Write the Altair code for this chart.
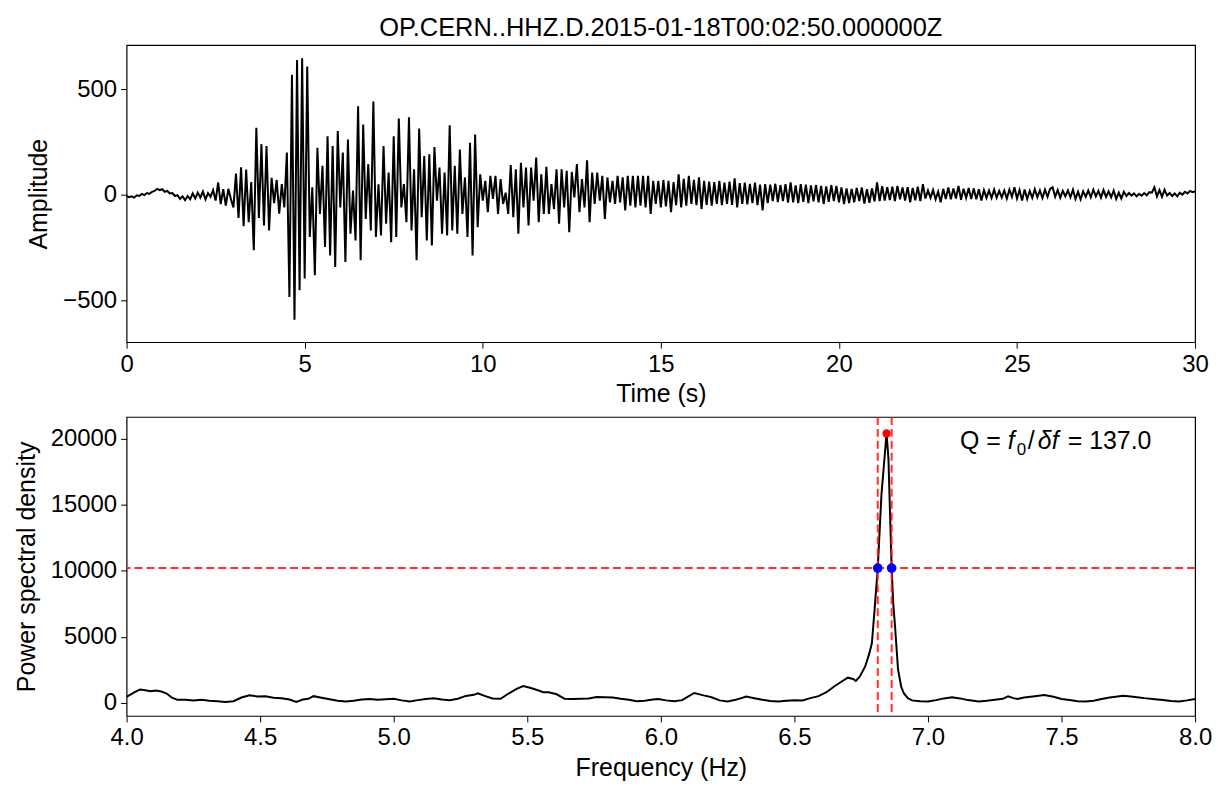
import altair as alt
import pandas as pd

TITLE = "OP.CERN..HHZ.D.2015-01-18T00:02:50.000000Z"
SAMPLES_PER_SECOND = 14

# Seismogram amplitude, one row per second (14 samples each)
amp_rows = [
    [-5, -12, -8, -14, -3, -6, 4, -2, 8, 4, 14, 18, 28, 22],
    [26, 14, 18, 6, 8, -6, -2, -20, -8, -26, -6, -22, 6, -18],
    [10, -14, 16, -22, 8, -10, 22, -28, 58, -45, 26, -52, 28, -20],
    [-60, 100, -110, 130, -150, 120, -130, 60, -264, 318, -110, 240, -146, 231],
    [-170, 80, -40, 70, -90, 50, -60, 200, -485, 570, -594, 640, -453, 648],
    [-398, 608, -201, 35, -382, 223, -91, 137, -248, 278, -288, 231, -343, 302],
    [-60, 200, -319, 262, -185, 20, -217, 420, -311, 333, -115, 145, -170, 443],
    [-201, 50, -193, 231, -138, 105, -225, 278, -201, 362, -60, 50, -130, 368],
    [-170, 121, -311, 314, -107, 184, -217, 192, -241, 226, -28, 129, -185, 105],
    [-193, 330, -170, 137, -185, 215, -91, 82, -201, 247, -288, 286, -154, 97],
    [-28, 66, -83, 90, -20, 90, -91, 74, -44, 10, -91, 141, -107, 121],
    [-185, 152, -60, 129, -146, 129, -28, 176, -130, 97, -91, 132, -91, 50],
    [-68, 121, -138, 121, -60, 113, -178, 108, -13, 145, -83, 74, -60, 163],
    [-130, 105, -44, 105, -28, 90, -115, 82, -36, 66, -44, 90, -36, 82],
    [-75, 90, -52, 90, -60, 90, -52, 90, -60, 90, -91, 66, -44, 66],
    [-60, 70, -55, 66, -83, 60, -50, 97, -60, 75, -52, 90, -44, 70],
    [-50, 82, -68, 66, -48, 62, -52, 60, -44, 66, -50, 58, -44, 62],
    [-48, 78, -60, 55, -44, 58, -46, 52, -40, 58, -50, 48, -75, 50],
    [-40, 48, -30, 52, -35, 46, -30, 50, -38, 58, -36, 44, -40, 50],
    [-34, 48, -40, 44, -32, 46, -36, 42, -44, 40, -34, 46, -30, 42],
    [-36, 35, -44, 30, -40, 28, -36, 32, -30, 34, -42, 26, -38, 30],
    [-32, 58, -30, 40, -28, 36, -25, 38, -30, 42, -22, 35, -28, 36],
    [-36, 32, -26, 38, -30, 50, -18, 20, -15, 22, -22, 15, -36, 28],
    [-20, 35, -22, 30, -18, 42, -24, 28, -15, 32, -20, 30, -22, 26],
    [-28, 22, -15, 20, -16, 24, -14, 18, -13, 20, -18, 24, -10, 35],
    [-18, 22, -28, 25, -20, 18, -15, 26, -12, 20, -16, 24, -10, 28],
    [35, -10, 22, -14, 18, -8, 20, -12, 24, -20, 14, -22, 16, -10],
    [20, -12, 24, -8, 18, -14, 22, -10, 16, -12, 20, -20, 10, -18],
    [14, -6, 8, -4, 6, -8, 4, -5, 8, -3, 12, 10, 35, -8],
    [22, -10, 24, -4, 8, -6, 6, -8, 10, 0, 14, 6, 18, 12],
]
amp_last = [15]

# Power spectral density curve
psd_freq = [
    4.00, 4.03, 4.05, 4.07, 4.09, 4.11, 4.13, 4.15, 4.17, 4.19, 4.22, 4.25, 4.28, 4.31,
    4.34, 4.37, 4.40, 4.43, 4.46, 4.49, 4.52, 4.55, 4.58, 4.61, 4.635, 4.66, 4.68, 4.70,
    4.73, 4.76, 4.79, 4.82, 4.85, 4.88, 4.91, 4.94, 4.97, 5.00, 5.03, 5.06, 5.09, 5.12,
    5.15, 5.18, 5.21, 5.24, 5.27, 5.30, 5.315, 5.34, 5.37, 5.40, 5.43, 5.46, 5.485, 5.51,
    5.54, 5.56, 5.58, 5.61, 5.64, 5.67, 5.70, 5.73, 5.76, 5.79, 5.82, 5.85, 5.88, 5.91,
    5.94, 5.97, 5.99, 6.02, 6.05, 6.08, 6.10, 6.125, 6.16, 6.19, 6.22, 6.25, 6.28, 6.32,
    6.35, 6.38, 6.41, 6.44, 6.47, 6.50, 6.53, 6.56, 6.59, 6.62, 6.65, 6.68, 6.70, 6.72,
    6.73, 6.745, 6.765, 6.78, 6.79, 6.80, 6.812, 6.826, 6.845, 6.852, 6.864, 6.87, 6.876,
    6.888, 6.90, 6.91, 6.925, 6.94, 6.97, 7.00, 7.03, 7.06, 7.09, 7.12, 7.15, 7.19, 7.22,
    7.25, 7.28, 7.30, 7.32, 7.335, 7.36, 7.40, 7.435, 7.47, 7.50, 7.53, 7.56, 7.59, 7.62,
    7.65, 7.68, 7.71, 7.73, 7.76, 7.79, 7.81, 7.85, 7.88, 7.91, 7.94, 7.97, 8.00,
]
psd_val = [
    450, 800, 1000, 950, 880, 930, 850, 700, 380, 220, 230, 180, 230, 150,
    120, 60, 120, 400, 560, 480, 500, 380, 340, 250, 60, 250, 300, 500,
    380, 260, 150, 90, 150, 240, 280, 230, 260, 300, 180, 100, 200, 280,
    340, 250, 190, 300, 520, 600, 720, 520, 330, 300, 700, 1050, 1260, 1130,
    950, 800, 800, 640, 300, 290, 300, 320, 430, 420, 390, 300, 230, 110,
    150, 240, 290, 180, 110, 200, 450, 740, 560, 420, 180, 100, 220, 470,
    340, 220, 140, 100, 150, 190, 180, 350, 500, 800, 1250, 1650, 1900, 1800,
    1650, 2000, 2750, 3700, 4500, 7000, 10200, 15800, 20400, 18500, 10200, 7500, 6000,
    2500, 1200, 700, 350, 180, 120, 100, 200, 330, 420, 330, 200, 100, 150,
    220, 300, 480, 350, 280, 400, 500, 580, 450, 280, 200, 120, 100, 160,
    280, 400, 480, 530, 470, 400, 350, 270, 200, 130, 100, 180, 280,
]

f0 = 6.845
peak_psd = 20400
half_psd = 10200
f_low = 6.812
f_high = 6.864

# ---------------------------------------------------------------- data frames
amplitudes = [v for row in amp_rows for v in row] + amp_last
times = [i / SAMPLES_PER_SECOND for i in range(len(amplitudes))]
wave_df = pd.DataFrame({"t": times, "amp": amplitudes})
psd_df = pd.DataFrame({"freq": psd_freq, "psd": psd_val})

FONT = "Liberation Sans"
RED = "#ff1a1a"

# ---------------------------------------------------------------- top panel
top = alt.Chart(wave_df).mark_line(color="black", strokeWidth=2).encode(
    x=alt.X("t:Q", scale=alt.Scale(domain=[0, 30], nice=False, zero=False),
            axis=alt.Axis(title="Time (s)", values=[0, 5, 10, 15, 20, 25, 30], format="d",
                          titlePadding=6)),
    y=alt.Y("amp:Q", scale=alt.Scale(domain=[-700, 710], nice=False, zero=False),
            axis=alt.Axis(title="Amplitude", values=[-500, 0, 500], format="d",
                          titlePadding=11)),
).properties(width=1072, height=298,
             title=alt.TitleParams(TITLE, fontSize=25.5, fontWeight="normal", font=FONT,
                                   color="black", offset=4, anchor="middle"))

# ---------------------------------------------------------------- bottom panel
x_enc = alt.X("freq:Q", scale=alt.Scale(domain=[4, 8], nice=False, zero=False),
              axis=alt.Axis(title="Frequency (Hz)", values=[4.0, 4.5, 5.0, 5.5, 6.0, 6.5, 7.0, 7.5, 8.0],
                            format=".1f", titlePadding=6))
y_enc = alt.Y("psd:Q", scale=alt.Scale(domain=[-1000, 21650], nice=False, zero=False),
              axis=alt.Axis(title="Power spectral density", values=[0, 5000, 10000, 15000, 20000],
                            format="d", titlePadding=11))

psd_line = alt.Chart(psd_df).mark_line(color="black", strokeWidth=2).encode(x=x_enc, y=y_enc)

hline = alt.Chart(pd.DataFrame({"psd": [half_psd]})).mark_rule(
    color=RED, strokeDash=[8, 4], strokeWidth=2, opacity=0.9).encode(y=y_enc)
vlines = alt.Chart(pd.DataFrame({"freq": [f_low, f_high]})).mark_rule(
    color=RED, strokeDash=[8, 4], strokeWidth=2, opacity=0.9).encode(x=x_enc)

half_pts = alt.Chart(pd.DataFrame({"freq": [f_low, f_high], "psd": [half_psd, half_psd]})).mark_point(
    filled=True, color="#0000ff", size=95, opacity=1).encode(x=x_enc, y=y_enc)
peak_pt = alt.Chart(pd.DataFrame({"freq": [f0], "psd": [peak_psd]})).mark_point(
    filled=True, color="#ff0000", size=70, opacity=1).encode(x=x_enc, y=y_enc)

# annotation  "Q = f0/δf = 137.0"
ann_freq = 7.12
ann_psd = 19250
pieces = [
    ("Q =", 0, 0, 25, "normal"),
    ("f", 48, 0, 25, "italic"),
    ("0", 57, 6, 17, "normal"),
    ("/", 68, 0, 25, "normal"),
    ("δ", 78, 0, 25, "italic"),
    ("f", 92, 0, 25, "italic"),
    ("= 137.0", 108, 0, 25, "normal"),
]
ann_layers = []
for txt, dx, dy, size, style in pieces:
    ann_layers.append(
        alt.Chart(pd.DataFrame({"freq": [ann_freq], "psd": [ann_psd], "label": [txt]})).mark_text(
            align="left", baseline="alphabetic", dx=dx, dy=dy, fontSize=size, fontStyle=style,
            font=FONT, color="black").encode(x=x_enc, y=y_enc, text="label:N")
    )

bottom = alt.layer(psd_line, hline, vlines, half_pts, peak_pt, *ann_layers).properties(
    width=1072, height=300)

chart = alt.vconcat(top, bottom, spacing=7).properties(
    padding={"left": 13, "top": 13, "right": 10, "bottom": 10},
    background="white",
).configure(font=FONT).configure_view(
    stroke="black", strokeWidth=1.2
).configure_axis(
    domain=False, grid=False, tickColor="black", tickSize=6, tickWidth=1,
    labelFontSize=24, titleFontSize=25, labelColor="black", titleColor="black",
    titleFontWeight="normal", labelFont=FONT, titleFont=FONT,
    labelFlush=False, labelOverlap=False, labelPadding=4,
)

chart.save("out.html", embed_options={"renderer": "svg", "actions": False})
